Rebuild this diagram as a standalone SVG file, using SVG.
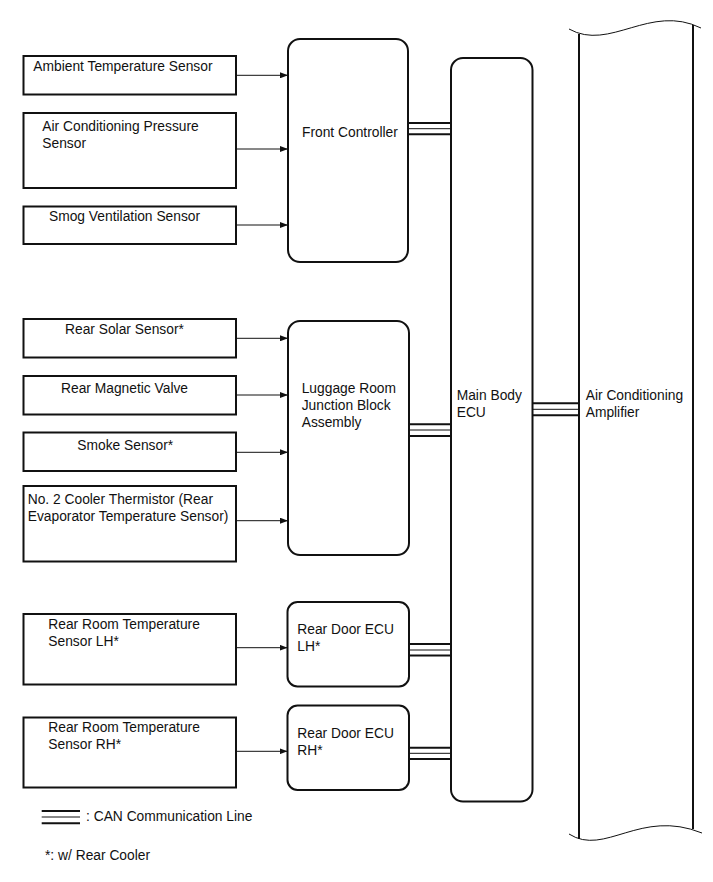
<svg xmlns="http://www.w3.org/2000/svg" width="713" height="882" viewBox="0 0 713 882">
<defs>
<style>
text{font-family:"Liberation Sans",Arial,sans-serif;font-size:13.8px;fill:#111}
.box{fill:#fff;stroke:#111;stroke-width:2}
.ar{stroke:#111;stroke-width:1;fill:none}
.can{stroke:#111;stroke-width:2}
.canm{stroke:#111;stroke-width:1}
.amp{stroke:#111;stroke-width:2;fill:none}
.wave{stroke:#111;stroke-width:1;fill:none}
</style>
<marker id="ah" viewBox="0 0 8 6" refX="8" refY="3" markerWidth="8" markerHeight="6" markerUnits="userSpaceOnUse" orient="auto">
<path d="M0,0 L8,3 L0,6 z" fill="#111"/>
</marker>
</defs>
<rect width="713" height="882" fill="#fff"/>

<g id="ambient"><rect class="box" x="23.5" y="56" width="212.5" height="38.5"/><text x="33.3" y="71">Ambient Temperature Sensor</text></g>
<g id="acpressure"><rect class="box" x="23.5" y="113" width="212.5" height="75"/><text x="42.3" y="131">Air Conditioning Pressure</text><text x="42.3" y="147.5">Sensor</text></g>
<g id="smog"><rect class="box" x="23.5" y="206.5" width="212.5" height="37.5"/><text x="49" y="221">Smog Ventilation Sensor</text></g>
<g id="frontcontroller"><rect class="box" x="288" y="39" width="120" height="223" rx="12"/><text x="302" y="137">Front Controller</text></g>

<g id="rearsolar"><rect class="box" x="23.5" y="319" width="212.5" height="38.5"/><text x="65" y="333.5">Rear Solar Sensor*</text></g>
<g id="rearmagnetic"><rect class="box" x="23.5" y="376" width="212.5" height="38.5"/><text x="61" y="393">Rear Magnetic Valve</text></g>
<g id="smoke"><rect class="box" x="23.5" y="432.5" width="212.5" height="38.5"/><text x="77.3" y="450">Smoke Sensor*</text></g>
<g id="cooler"><rect class="box" x="23.5" y="486" width="212.5" height="75.5"/><text x="27.7" y="504">No. 2 Cooler Thermistor (Rear</text><text x="27.7" y="520.7">Evaporator Temperature Sensor)</text></g>
<g id="luggage"><rect class="box" x="288" y="321" width="121" height="234" rx="12"/><text x="301.7" y="393">Luggage Room</text><text x="301.7" y="410">Junction Block</text><text x="301.7" y="427">Assembly</text></g>

<g id="rearroomlh"><rect class="box" x="23.5" y="614" width="212.5" height="70.5"/><text x="48.3" y="629">Rear Room Temperature</text><text x="48.3" y="645.5">Sensor LH*</text></g>
<g id="rearroomrh"><rect class="box" x="23.5" y="717.5" width="212.5" height="70"/><text x="48.3" y="732">Rear Room Temperature</text><text x="48.3" y="748.5">Sensor RH*</text></g>
<g id="reardoorlh"><rect class="box" x="287.5" y="602" width="121.5" height="84.5" rx="10"/><text x="297.3" y="634">Rear Door ECU</text><text x="297.3" y="650.7">LH*</text></g>
<g id="reardoorrh"><rect class="box" x="287.5" y="705.5" width="121.5" height="84.5" rx="10"/><text x="297.3" y="738">Rear Door ECU</text><text x="297.3" y="754.7">RH*</text></g>

<g id="mainbody"><rect class="box" x="451" y="58" width="81.5" height="743.5" rx="12"/><text x="456.7" y="400">Main Body</text><text x="456.7" y="417">ECU</text></g>

<g id="amplifier">
<line class="amp" x1="579" y1="34" x2="579" y2="839"/>
<line class="amp" x1="693" y1="25" x2="693" y2="829"/>
<path class="wave" d="M569,29 C610,52 650,3 701,28"/>
<path class="wave" d="M569,834 C605,857 640,808 702,833"/>
<text x="585.7" y="399.5">Air Conditioning</text><text x="585.7" y="416.5">Amplifier</text>
</g>

<g id="connectors">
<line class="ar" x1="236" y1="75.3" x2="288" y2="75.3" marker-end="url(#ah)"/>
<line class="ar" x1="236" y1="149" x2="288" y2="149" marker-end="url(#ah)"/>
<line class="ar" x1="236" y1="225" x2="288" y2="225" marker-end="url(#ah)"/>
<line class="ar" x1="236" y1="338.3" x2="288" y2="338.3" marker-end="url(#ah)"/>
<line class="ar" x1="236" y1="395" x2="288" y2="395" marker-end="url(#ah)"/>
<line class="ar" x1="236" y1="452.3" x2="288" y2="452.3" marker-end="url(#ah)"/>
<line class="ar" x1="236" y1="520.7" x2="288" y2="520.7" marker-end="url(#ah)"/>
<line class="ar" x1="236" y1="647.7" x2="287.5" y2="647.7" marker-end="url(#ah)"/>
<line class="ar" x1="236" y1="751.3" x2="287.5" y2="751.3" marker-end="url(#ah)"/>

<line class="can" x1="408" y1="123" x2="451" y2="123"/><line class="canm" x1="408" y1="128.7" x2="451" y2="128.7"/><line class="can" x1="408" y1="134.3" x2="451" y2="134.3"/>
<line class="can" x1="409" y1="424.3" x2="451" y2="424.3"/><line class="canm" x1="409" y1="430" x2="451" y2="430"/><line class="can" x1="409" y1="436" x2="451" y2="436"/>
<line class="can" x1="409" y1="644" x2="451" y2="644"/><line class="canm" x1="409" y1="650" x2="451" y2="650"/><line class="can" x1="409" y1="655.5" x2="451" y2="655.5"/>
<line class="can" x1="409" y1="747.7" x2="451" y2="747.7"/><line class="canm" x1="409" y1="753.3" x2="451" y2="753.3"/><line class="can" x1="409" y1="759" x2="451" y2="759"/>
<line class="can" x1="532.5" y1="403.3" x2="579" y2="403.3"/><line class="canm" x1="532.5" y1="409.3" x2="579" y2="409.3"/><line class="can" x1="532.5" y1="415.3" x2="579" y2="415.3"/>
</g>

<g id="legend">
<line class="can" x1="41.7" y1="811" x2="80" y2="811"/><line class="canm" x1="41.7" y1="817" x2="80" y2="817"/><line class="can" x1="41.7" y1="823.3" x2="80" y2="823.3"/>
<text x="86" y="821">: CAN Communication Line</text>
<text x="45" y="859.5">*: w/ Rear Cooler</text>
</g>
</svg>
